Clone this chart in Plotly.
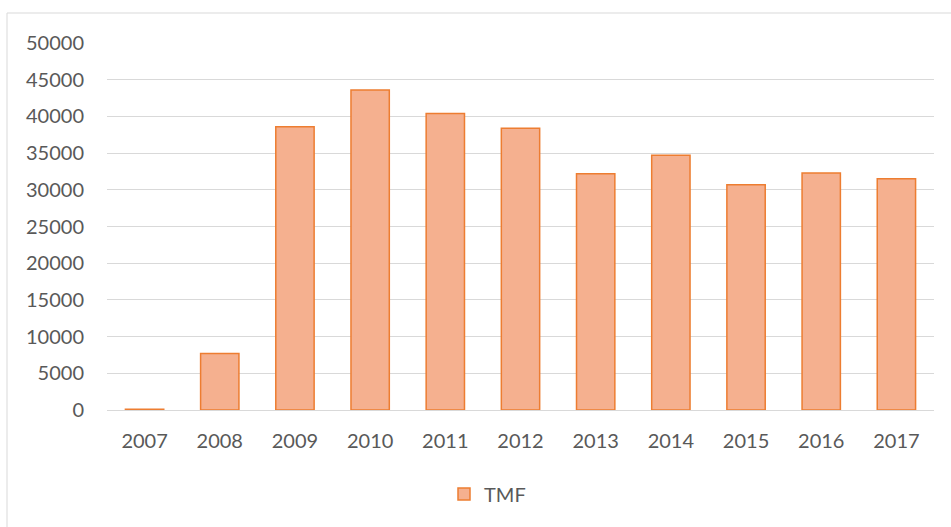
import plotly.graph_objects as go

years = ["2007", "2008", "2009", "2010", "2011", "2012", "2013", "2014", "2015", "2016", "2017"]
tmf = [100, 7700, 38600, 43600, 40400, 38400, 32200, 34700, 30700, 32300, 31500]
y_ticks = [0, 5000, 10000, 15000, 20000, 25000, 30000, 35000, 40000, 45000, 50000]

W, H = 951, 527
L, R, T, B = 107, 17, 43, 117
pw = W - L - R
ph = H - T - B

def px(x):
    return (x - L) / pw

def py(y):
    return (H - B - y) / ph

fig = go.Figure()
fig.add_trace(go.Bar(
    x=years, y=tmf, name="TMF",
    marker=dict(color="#F5B08F", line=dict(color="#ED7D31", width=1.5)),
))

font = "Lato, 'Open Sans', sans-serif"
fig.update_layout(
    width=W, height=H,
    margin=dict(l=L, r=R, t=T, b=B),
    paper_bgcolor="white", plot_bgcolor="white",
    bargap=0.49,
    font=dict(family=font, size=20, color="#595959"),
    showlegend=True,
    legend=dict(orientation="h", x=px(444), y=py(494), xanchor="left", yanchor="middle",
                font=dict(size=20, color="#595959"), itemwidth=30),
    xaxis=dict(showgrid=False, showline=False, ticks="", ticklabelstandoff=17,
               tickfont=dict(size=20, color="#595959")),
    yaxis=dict(range=[0, 50000], tickvals=y_ticks, ticktext=[str(v) for v in y_ticks],
               showgrid=True, gridcolor="#D9D9D9", gridwidth=1, zeroline=True,
               zerolinecolor="#D9D9D9", zerolinewidth=1, showline=False, ticks="",
               ticklabelstandoff=22, tickfont=dict(size=20, color="#595959")),
    shapes=[dict(type="rect", xref="paper", yref="paper",
                 x0=px(7), x1=px(W + 10), y0=py(H + 10), y1=py(13),
                 line=dict(color="#D9D9D9", width=1), fillcolor="rgba(0,0,0,0)", layer="below")],
)

fig.write_html("out.html", config={"displayModeBar": False},
               post_script="document.body.style.margin='0';")
